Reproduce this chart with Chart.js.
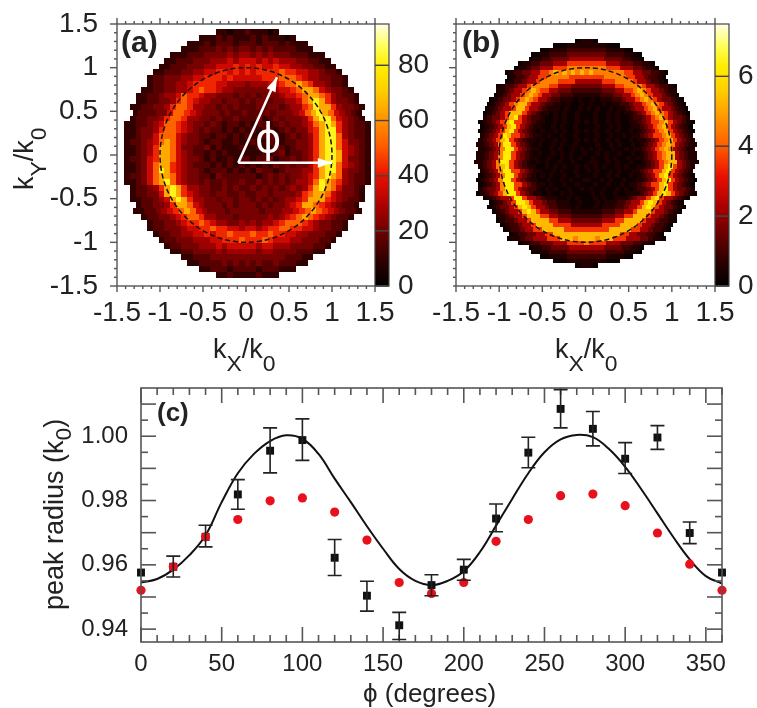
<!DOCTYPE html>
<html>
<head>
<meta charset="utf-8">
<title>peak radius</title>
<script src="https://cdn.jsdelivr.net/npm/chart.js@4"></script>
<style>
html,body{margin:0;padding:0;background:#fff;}
body{position:relative;width:757px;height:708px;overflow:hidden;}
canvas{position:absolute;display:block;filter:blur(0.45px);}
</style>
</head>
<body>
<canvas id="panelA" width="400" height="380" style="left:0;top:0"></canvas>
<canvas id="barA" width="60" height="330" style="left:375px;top:0"></canvas>
<canvas id="panelB" width="357" height="380" style="left:400px;top:0"></canvas>
<canvas id="barB" width="42" height="330" style="left:715px;top:0"></canvas>
<canvas id="panelC" width="757" height="333" style="left:0;top:375px"></canvas>
<script>
//パネル(c)のデータ
const phi = [0,20,40,60,80,100,120,140,160,180,200,220,240,260,280,300,320,340,360];
const peakBlack = [.9576,.9594,.9687,.9819,.9955,.9988,.9622,.9504,.9412,.9537,.9585,.9744,.9949,1.0085,1.0023,.9930,.9996,.9699,.9576];
const errHigh = [.9576,.9627,.9723,.9865,1.0026,1.0054,.9679,.9549,.9452,.9569,.9617,.9789,.9997,1.0145,1.0077,.9980,1.0033,.9733,.9576];
const errLow = [.9576,.9562,.9656,.9773,.9886,.9925,.9567,.9456,.9368,.9504,.9552,.9703,.9902,1.0026,.9970,.9884,.9959,.9666,.9576];
const peakRed = [.9521,.9594,.9687,.9741,.9799,.9808,.9764,.9677,.9545,.9511,.9545,.9673,.9741,.9815,.9820,.9784,.9699,.9602,.9521];
const fitPhi = [0,10,20,30,40,50,60,70,80,90,100,110,120,130,140,150,160,170,180,190,200,210,220,230,240,250,260,270,280,290,300,310,320,330,340,350,360];
const fitPeak = [.9545,.9556,.9585,.9630,.9692,.9795,.9885,.9945,.9985,1.0003,.9992,.9945,.9868,.9795,.9720,.9650,.9587,.9550,.9537,.9550,.9580,.9640,.9722,.9805,.9885,.9950,.9990,1.0004,.9997,.9960,.9905,.9835,.9760,.9685,.9617,.9565,.9542];

//目盛り
const kMajor = [-1.5,-1,-0.5,0,0.5,1,1.5];
const kMinor = [-1.4,-1.3,-1.2,-1.1,-0.9,-0.8,-0.7,-0.6,-0.4,-0.3,-0.2,-0.1,0.1,0.2,0.3,0.4,0.6,0.7,0.8,0.9,1.1,1.2,1.3,1.4];
const phiMajor = [0,50,100,150,200,250,300,350];
const phiMinor = [10,20,30,40,60,70,80,90,110,120,130,140,160,170,180,190,210,220,230,240,260,270,280,290,310,320,330,340,360];
const peakLabels = [0.94,0.96,0.98,1.00];
const peakMajor = [0.94,0.95,0.96,0.97,0.98,0.99,1.00,1.01];
const peakMinor = [0.945,0.955,0.965,0.975,0.985,0.995,1.005];
const countsTicksA = [0,20,40,60,80];
const countsTicksB = [0,2,4,6];

//カラーマップ
const cmapPos = [0,.1,.21,.3,.42,.53,.64,.75,.84,.92,1];
const cmapCol = [[0,0,0],[48,0,0],[112,0,0],[168,0,0],[232,16,0],[255,90,0],[255,150,0],[255,208,0],[255,238,0],[255,255,96],[255,255,232]];

//ヒートマップ: 1文字が1セル、文字はlevelsの添字
const levelsA = [4,10,16,21,27,35,43,52,64,82];
const rowsA = [
"11011211101",
"11121211121211101",
"111212221222122212111",
"11122232323323232222111",
"111222333343443434333222111",
"11222333444545554545444332211",
"1122233344555656565565544332211",
"112223344556656565666676655443221",
"12233344556665655555666777654433221",
"12233445666655444344455677876443221",
"1122334456766544333333445567887543321",
"112234457665443332323233345567887643221",
"112233467654433233232332334457898643321",
"11223346776443323232223233234467988643321",
"1222335776543332322322232333457898754321",
"12233467764433232232223123233346899754321",
"1122345776543323212212122123233457898643221",
"1123346776543232212121212212323356899643221",
"1123357775433221221212112231232346899743221",
"1223457875433212211211211221223346899753321",
"1123468875332231211121121132123346899754321",
"1123468875432212121111112123122346899854321",
"1223568875433212112122122312232346899853321",
"1123578865432221212121212132323346899754321",
"1123579865433212221212132212333446899743321",
"1223578875433221322222212323233456898743221",
"1123578975433232232232232323234457987643221",
"12234689864433223232232323234346898753321",
"12233589865433233223223323333467887543321",
"11223458986443323323323232344568886543221",
"122334688754333232333232334568876543221",
"1122345678754333233333233344567876543221",
"1223345677644333233333434567876543221",
"12233456676544334343445677765433221",
"12233345566766554554566776655433221",
"122334455656676667667665544333221",
"1223334445566676667655544333221",
"12233344454555554554443333221",
"112233334344444344333322211",
"11222333333333333322211",
"112222323232322322211",
"11222122221222111",
"11211112111"
];

const levelsB = [.2,.55,.95,1.5,2.2,3,3.6,4.5,5.3,6.3];
const rowsB = [
"01110",
"000111111111000",
"001111222222222111100",
"0011222233333333322221100",
"01122333344444444333322110",
"0112233344466666666644433322110",
"011233444666777777777666444332110",
"0122334466787878787877777776644332210",
"012234466777776666666677777664432210",
"0122344677776666444444666777764432210",
"01223446777766444333333344466777764432210",
"11234467876644333222222233344667876443211",
"012344678764433222111111222334467876443210",
"01233467876443221110100101112234467876433210",
"012346788644322110100101001011223446787643210",
"0123446886443211101001010100101123446786443210",
"01234688864321101010010001001010112346787643210",
"12334689643221001010010001001010012234678643321",
"0123468966432110010100101010010100112346678643210",
"012346896432110010100100001001010011234678643210",
"0123468964321010010100101010010100101234678643210",
"123469866432110100100100001001001011234667864321",
"1234689643211010010100101010010100101123467864321",
"11234799643210100101001000010010100101234678743211",
"1123479964321100101001010101001001011234678743211",
"11234799643210100101010010010100100101234678843211",
"11234799643211001001010100100101001011234678843211",
"112347996432101010010010001100101001001234678843211",
"12347896432110010101001010101001010011234689643 21".replace(' ',''),
"1234799664321100101001001010010100112346689 64321".replace(' ',''),
"0123479964321010100100100010010100101234689643210",
"01234799643211001001010011001010010011234689643210",
"0123479966432110100100100010010010112346689643210",
"123347996432210101001001010010010101223468964 3321".replace(' ',''),
"012346899643211010010100001010010011123468986 43210".replace(' ',''),
"01234469964432111001010001010011123446896443210",
"01234699864432211100100010111223446898643210",
"012334689864432211101000101112234468986433210",
"01234468986443322211111112223344688864 43210".replace(' ',''),
"11234468886644333222222233344668886443211",
"01223446888866444333333344466888864432210",
"012234468888666644444446666888864432210",
"01223446688888666666666688888664432210",
"01223344668888888888888886644332210",
"011233444666888788887888666444332110",
"0112233344466667666644433322110",
"01122333344444444333322110",
"0011222233333333322221100",
"001111222222222111100",
"000111111111000",
"01110"
];

//文字列の行をセルへ
function toCells(rows, levels, cx, cy, dx, dy){
    const cells = [];
    const mid = (rows.length - 1) / 2;
    rows.forEach((row, r) => {
        const off = (row.length - 1) / 2;
        for(let i = 0; i < row.length; i++){
            cells.push({x: cx + (i - off) * dx, y: cy + (mid - r) * dy, v: levels[+row[i]]});
        }
    });
    return cells;
}

//値→色
function heatColor(t){
    let i = 1;
    while(i < cmapPos.length - 1 && t > cmapPos[i]) i++;
    const f = Math.min(1, (t - cmapPos[i-1]) / (cmapPos[i] - cmapPos[i-1]));
    const c = cmapCol[i-1].map((a, n) => Math.round(a + (cmapCol[i][n] - a) * f));
    return 'rgb(' + c.join(',') + ')';
}

//ヒートマップ描画
const heatPlugin = {
    id: 'heat',
    beforeDatasetsDraw(chart, args, o){
        if(!o.dx) return;
        const {ctx, scales: {x, y}} = chart;
        chart.data.datasets[0].data.forEach(c => {
            const x0 = Math.round(x.getPixelForValue(c.x - o.dx/2));
            const x1 = Math.round(x.getPixelForValue(c.x + o.dx/2));
            const y0 = Math.round(y.getPixelForValue(c.y + o.dy/2));
            const y1 = Math.round(y.getPixelForValue(c.y - o.dy/2));
            ctx.fillStyle = heatColor(c.v / o.vmax);
            ctx.fillRect(x0, y0, x1 - x0, y1 - y0);
        });
    }
};

//枠と目盛り
const framePlugin = {
    id: 'frame',
    afterDatasetsDraw(chart, args, o){
        const {ctx, chartArea: a, scales: {x, y}} = chart;
        ctx.save();
        ctx.strokeStyle = o.color;
        ctx.lineWidth = o.width;
        const dir = o.inward ? 1 : -1;
        const line = (x0, y0, x1, y1) => {
            ctx.beginPath(); ctx.moveTo(x0, y0); ctx.lineTo(x1, y1); ctx.stroke();
        };
        const tickX = (list, len) => list.forEach(v => {
            const p = x.getPixelForValue(v);
            line(p, a.bottom, p, a.bottom - dir * len);
            line(p, a.top, p, a.top + dir * len);
        });
        const tickY = (list, len) => list.forEach(v => {
            const p = y.getPixelForValue(v);
            line(a.left, p, a.left + dir * len, p);
            if(o.inward) line(a.right, p, a.right - len, p);
        });
        tickX(o.xMajor, o.xLen[0]); tickX(o.xMinor, o.xLen[1]);
        tickY(o.yMajor, o.yLen[0]); tickY(o.yMinor, o.yLen[1]);
        ctx.strokeRect(a.left, a.top, a.right - a.left, a.bottom - a.top);
        ctx.restore();
    }
};

//半径1の点線円
const ringPlugin = {
    id: 'ring',
    afterDatasetsDraw(chart, args, o){
        if(!o.radius) return;
        const {ctx, scales: {x, y}} = chart;
        ctx.save();
        ctx.strokeStyle = '#111';
        ctx.lineWidth = 1.5;
        ctx.setLineDash([5, 3]);
        ctx.beginPath();
        ctx.ellipse(x.getPixelForValue(0), y.getPixelForValue(0),
            x.getPixelForValue(o.radius) - x.getPixelForValue(0),
            y.getPixelForValue(0) - y.getPixelForValue(o.radius), 0, 0, Math.PI * 2);
        ctx.stroke();
        ctx.restore();
    }
};

//(a)の矢印
const arrowFrom = [-0.09, -0.09];
const arrowTips = [[0.36, 0.89], [1.0, -0.09]];
const arrowPlugin = {
    id: 'arrows',
    afterDatasetsDraw(chart, args, o){
        if(!o.show) return;
        const {ctx, scales: {x, y}} = chart;
        const x0 = x.getPixelForValue(arrowFrom[0]), y0 = y.getPixelForValue(arrowFrom[1]);
        ctx.save();
        ctx.strokeStyle = '#fff';
        ctx.fillStyle = '#fff';
        ctx.lineWidth = 2.5;
        arrowTips.forEach(t => {
            const x1 = x.getPixelForValue(t[0]), y1 = y.getPixelForValue(t[1]);
            const ang = Math.atan2(y1 - y0, x1 - x0);
            ctx.beginPath(); ctx.moveTo(x0, y0); ctx.lineTo(x1, y1); ctx.stroke();
            ctx.beginPath();
            ctx.moveTo(x1, y1);
            ctx.lineTo(x1 - 15 * Math.cos(ang - 0.33), y1 - 15 * Math.sin(ang - 0.33));
            ctx.lineTo(x1 - 15 * Math.cos(ang + 0.33), y1 - 15 * Math.sin(ang + 0.33));
            ctx.fill();
        });
        ctx.restore();
    }
};

//エラーバー
const errorPlugin = {
    id: 'errors',
    afterDatasetsDraw(chart, args, o){
        if(!o.high) return;
        const {ctx, scales: {x, y}} = chart;
        ctx.save();
        ctx.strokeStyle = '#222';
        ctx.lineWidth = 1.6;
        phi.forEach((p, i) => {
            if(o.high[i] === o.low[i]) return;
            const px = x.getPixelForValue(p), hi = y.getPixelForValue(o.high[i]), lo = y.getPixelForValue(o.low[i]);
            ctx.beginPath();
            ctx.moveTo(px, hi); ctx.lineTo(px, lo);
            ctx.moveTo(px - 7, hi); ctx.lineTo(px + 7, hi);
            ctx.moveTo(px - 7, lo); ctx.lineTo(px + 7, lo);
            ctx.stroke();
        });
        ctx.restore();
    }
};

//添字つきの文字
const textPlugin = {
    id: 'texts',
    afterDraw(chart, args, o){
        const ctx = chart.ctx;
        (o.items || []).forEach(t => {
            ctx.save();
            ctx.translate(t.x, t.y);
            if(t.rot) ctx.rotate(t.rot);
            ctx.fillStyle = t.color || '#222';
            ctx.textBaseline = 'alphabetic';
            let w = 0;
            t.parts.forEach(p => {
                const sub = p[1];
                ctx.font = (t.weight || 'normal') + ' ' + (sub ? t.size * 0.85 : t.size) + 'px ' + (t.family || '"Liberation Sans"');
                ctx.fillText(p[0], w, sub ? t.sub : 0);
                w += ctx.measureText(p[0]).width;
            });
            ctx.restore();
        });
    }
};

Chart.register(heatPlugin, framePlugin, ringPlugin, arrowPlugin, errorPlugin, textPlugin);
Chart.defaults.font.family = '"Liberation Sans"';
Chart.defaults.color = '#222';

const kTitle = [['k',0],['X',1],['/',0],['k',0],['0',1]];

//目盛りラベルのはみ出しで描画域が縮まないように
function fixX(h){
    return s => { s.height = h; s.paddingLeft = 0; s.paddingRight = 0; };
}
function fixY(w){
    return s => { s.width = w; s.paddingTop = 0; s.paddingBottom = 0; };
}

//パネル(a)(b)
function newHeatChart(id, cells, o){
    return new Chart(document.getElementById(id), {
        type: 'scatter',
        data: {datasets: [{data: cells, pointRadius: 0, pointHitRadius: 0}]},
        options: {
            responsive: false,
            animation: false,
            layout: {padding: {top: 24, right: o.right, left: 0, bottom: 0}},
            scales: {
                x: {
                    min: -1.5, max: 1.5,
                    grid: {display: false, drawTicks: false},
                    border: {display: false},
                    afterBuildTicks: s => { s.ticks = kMajor.map(v => ({value: v})); },
                    afterFit: fixX(94),
                    ticks: {padding: 10, maxRotation: 0, autoSkip: false, font: {size: 28}, callback: v => String(v)}
                },
                y: {
                    min: -1.5, max: 1.5,
                    grid: {display: false, drawTicks: false},
                    border: {display: false},
                    afterBuildTicks: s => { s.ticks = kMajor.map(v => ({value: v})); },
                    afterFit: fixY(o.left),
                    ticks: {display: o.showY, padding: 19, autoSkip: false, font: {size: 28}, callback: v => String(v)}
                }
            },
            plugins: {
                legend: {display: false},
                tooltip: {enabled: false},
                heat: {dx: o.dx, dy: o.dy, vmax: o.vmax},
                frame: {color: '#555', width: 1.4, inward: false, xMajor: kMajor, xMinor: kMinor, yMajor: o.yMajor, yMinor: o.yMinor, xLen: [6, 3], yLen: [7, 3]},
                ring: {radius: 1},
                arrows: {show: o.arrows},
                texts: {items: o.texts}
            }
        }
    });
}

//カラーバー
function newColorBar(id, vmax, tickVals, width){
    new Chart(document.getElementById(id), {
        type: 'bar',
        data: {
            labels: [''],
            datasets: [{
                data: [vmax],
                barPercentage: 1,
                categoryPercentage: 1,
                backgroundColor: c => {
                    const a = c.chart.chartArea;
                    if(!a) return '#000';
                    const g = c.chart.ctx.createLinearGradient(0, a.bottom, 0, a.top);
                    cmapPos.forEach((p, i) => g.addColorStop(p, 'rgb(' + cmapCol[i].join(',') + ')'));
                    return g;
                }
            }]
        },
        options: {
            responsive: false,
            animation: false,
            layout: {padding: {top: 24, bottom: 44, left: 0, right: 0}},
            scales: {
                x: {display: false},
                y: {
                    position: 'right',
                    min: 0, max: vmax,
                    grid: {display: false, drawTicks: false},
                    border: {display: false},
                    afterBuildTicks: s => { s.ticks = tickVals.map(v => ({value: v})); },
                    afterFit: fixY(width - 14),
                    ticks: {padding: 9, autoSkip: false, font: {size: 28}}
                }
            },
            plugins: {
                legend: {display: false},
                tooltip: {enabled: false},
                frame: {color: '#444', width: 1.2, inward: true, xMajor: [], xMinor: [], yMajor: tickVals, yMinor: [], xLen: [0, 0], yLen: [14, 0]}
            }
        }
    });
}

window.addEventListener('DOMContentLoaded', () => {
    newHeatChart('panelA', toCells(rowsA, levelsA, 0.017, 0.02, 0.0667, 0.0662), {
        right: 25, left: 117, showY: true, dx: 0.0667, dy: 0.0662, vmax: 95, arrows: true,
        yMajor: kMajor, yMinor: kMinor,
        texts: [
            {x: 213, y: 358, size: 27, sub: 13, parts: kTitle},
            {x: 33, y: 190, size: 27, sub: 13, rot: -Math.PI/2, parts: [['k',0],['Y',1],['/',0],['k',0],['0',1]]},
            {x: 121, y: 52, size: 30, weight: 'bold', parts: [['(a)',0]]},
            {x: 255, y: 152, size: 40, color: '#fff', family: '"DejaVu Sans"', parts: [['ϕ',0]]}
        ]
    });
    newHeatChart('panelB', toCells(rowsB, levelsB, 0.012, 0.02, 0.0512, 0.0515), {
        right: 42, left: 56, showY: false, dx: 0.0512, dy: 0.0515, vmax: 7.5, arrows: false,
        yMajor: [-1,0,1], yMinor: kMinor.concat([-1.5,-0.5,0.5,1.5]),
        texts: [
            {x: 155, y: 358, size: 27, sub: 13, parts: kTitle},
            {x: 62, y: 52, size: 30, weight: 'bold', parts: [['(b)',0]]}
        ]
    });
    newColorBar('barA', 95, countsTicksA, 60);
    newColorBar('barB', 7.5, countsTicksB, 42);

    new Chart(document.getElementById('panelC'), {
        type: 'scatter',
        data: {datasets: [
            {data: phi.map((p, i) => ({x: p, y: peakRed[i]})), order: 0, clip: false, pointStyle: 'circle', pointRadius: 4.6, backgroundColor: '#e8101c', borderWidth: 0},
            {data: phi.map((p, i) => ({x: p, y: peakBlack[i]})), order: 1, clip: false, pointStyle: 'rect', pointRadius: 5.6, backgroundColor: '#111', borderWidth: 0},
            {data: fitPhi.map((p, i) => ({x: p, y: fitPeak[i]})), order: 2, showLine: true, tension: 0.4, pointRadius: 0, borderColor: '#111', borderWidth: 2}
        ]},
        options: {
            responsive: false,
            animation: false,
            layout: {padding: {top: 13, right: 35, left: 0, bottom: 0}},
            scales: {
                x: {
                    min: 0, max: 360,
                    grid: {display: false, drawTicks: false},
                    border: {display: false},
                    afterBuildTicks: s => { s.ticks = phiMajor.map(v => ({value: v})); },
                    afterFit: fixX(66),
                    ticks: {padding: 8, maxRotation: 0, autoSkip: false, font: {size: 24}, callback: v => String(v)}
                },
                y: {
                    min: 0.936, max: 1.015,
                    grid: {display: false, drawTicks: false},
                    border: {display: false},
                    afterBuildTicks: s => { s.ticks = peakLabels.map(v => ({value: v})); },
                    afterFit: fixY(141),
                    ticks: {padding: 13, autoSkip: false, font: {size: 24}, callback: v => v.toFixed(2)}
                }
            },
            plugins: {
                legend: {display: false},
                tooltip: {enabled: false},
                errors: {high: errHigh, low: errLow},
                frame: {color: '#555', width: 1.6, inward: true, xMajor: phiMajor, xMinor: phiMinor, yMajor: peakMajor, yMinor: peakMinor, xLen: [15, 7], yLen: [15, 7]},
                texts: {items: [
                    {x: 157, y: 46, size: 26, weight: 'bold', parts: [['(c)',0]]},
                    {x: 63, y: 235, size: 27, sub: 8, rot: -Math.PI/2, parts: [['peak radius (k',0],['0',1],[')',0]]},
                    {x: 363, y: 327, size: 26, parts: [['ϕ (degrees)',0]]}
                ]}
            }
        }
    });
});
</script>
</body>
</html>
